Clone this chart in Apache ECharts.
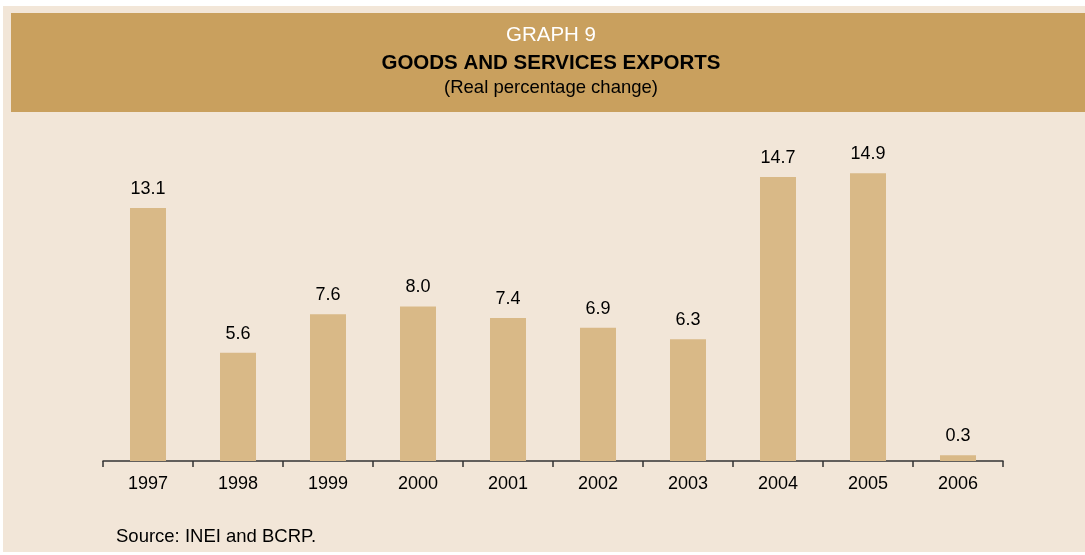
<!DOCTYPE html>
<html><head><meta charset="utf-8">
<script src="https://cdn.jsdelivr.net/npm/echarts@6/dist/echarts.min.js"></script>
<style>html,body{margin:0;padding:0;background:#fff;}#c{width:1085px;height:555px;}</style>
</head><body><div id="c"></div>
<script>
const categories = ['1997','1998','1999','2000','2001','2002','2003','2004','2005','2006'];
const values = [13.1, 5.6, 7.6, 8.0, 7.4, 6.9, 6.3, 14.7, 14.9, 0.3];
const titleLines = ['GRAPH 9', 'GOODS AND SERVICES EXPORTS', '(Real percentage change)'];
const sourceText = 'Source: INEI and BCRP.';

const chart = echarts.init(document.getElementById('c'));
const font = '"Liberation Sans", Arial, sans-serif';
chart.setOption({
  animation: false,
  textStyle: { fontFamily: font },
  graphic: [
    { type: 'rect', z: -10, shape: { x: 3, y: 6, width: 1082, height: 546 }, style: { fill: '#F2E6D8' } },
    { type: 'rect', z: -9, shape: { x: 11, y: 13, width: 1074, height: 99 }, style: { fill: '#C9A05E' } },
    { type: 'text', x: 551, y: 35, style: { text: titleLines[0], fill: '#ffffff', font: '20.5px ' + font, textAlign: 'center', textVerticalAlign: 'middle' } },
    { type: 'text', x: 551, y: 63, style: { text: titleLines[1], fill: '#000000', font: 'bold 20.5px ' + font, textAlign: 'center', textVerticalAlign: 'middle' } },
    { type: 'text', x: 551, y: 88, style: { text: titleLines[2], fill: '#000000', font: '18.5px ' + font, textAlign: 'center', textVerticalAlign: 'middle' } },
    { type: 'text', x: 116, y: 537, style: { text: sourceText, fill: '#000000', font: '18.5px ' + font, textVerticalAlign: 'middle' } }
  ],
  grid: { left: 103, right: 82, top: 152, bottom: 94 },
  xAxis: {
    type: 'category', data: categories,
    axisLine: { lineStyle: { color: '#333', width: 1.5 } },
    axisTick: { show: true, length: 6, lineStyle: { color: '#333', width: 1.5 } },
    axisLabel: { color: '#000', fontSize: 18, margin: 14, fontFamily: font }
  },
  yAxis: { type: 'value', min: 0, max: 16, show: false, splitLine: { show: false } },
  series: [{
    type: 'bar', data: values, barWidth: 36,
    itemStyle: { color: '#D9B987' },
    label: { show: true, position: 'top', distance: 10, color: '#000', fontSize: 18, fontFamily: font,
      formatter: p => p.value.toFixed(1) }
  }]
});
</script></body></html>
